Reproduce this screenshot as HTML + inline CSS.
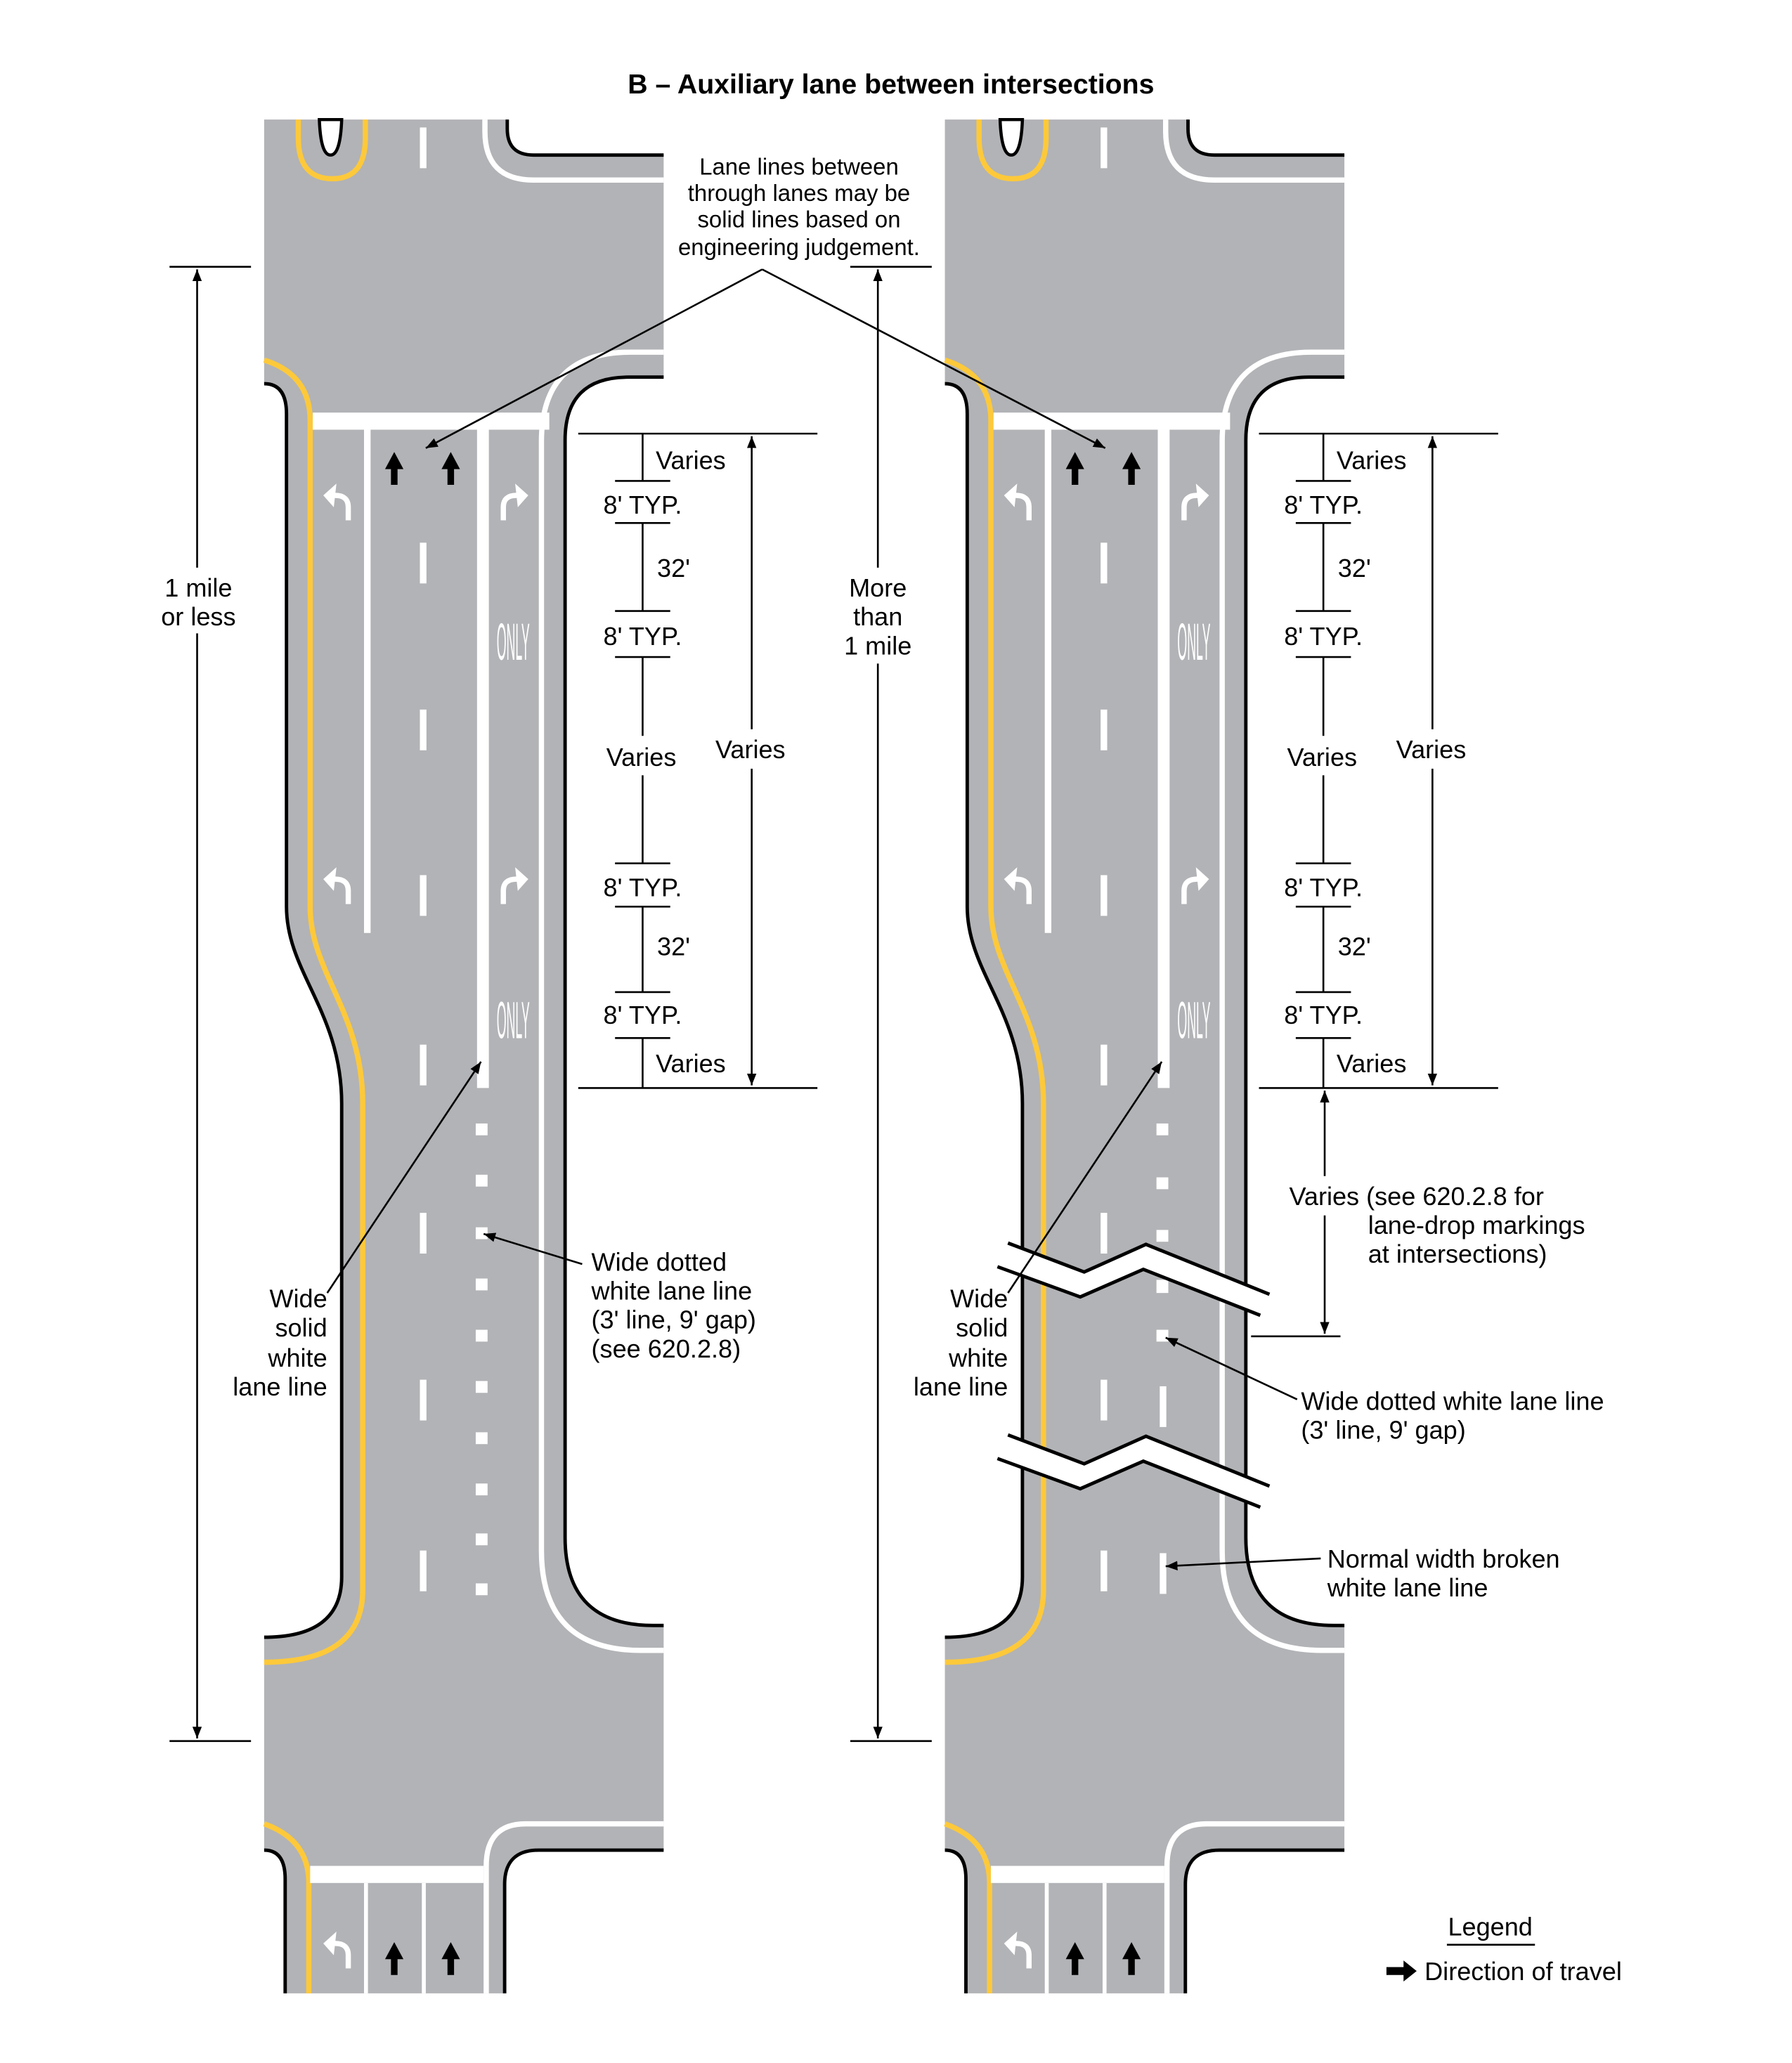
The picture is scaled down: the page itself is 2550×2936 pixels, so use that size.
<!DOCTYPE html>
<html><head><meta charset="utf-8"><style>html,body{margin:0;padding:0;background:#fff}svg{display:block}</style></head>
<body>
<svg width="2550" height="2936" viewBox="0 0 1363.6 1570" xmlns="http://www.w3.org/2000/svg" font-family="Liberation Sans, Arial, sans-serif" font-size="19.3">
<defs>
<marker id="ah" viewBox="0 0 10 10" refX="10" refY="5" markerWidth="9" markerHeight="9" markerUnits="userSpaceOnUse" orient="auto-start-reverse"><path d="M0,1 L10,5 L0,9 Z" fill="#000"/></marker>
<g id="road">
<path d="M201,91 L386,91 L386,98 Q386,118 406,118 L505,118 L505,287 L478,287 Q430,287 430,335 L430,1170 Q430,1237 497,1237 L505,1237 L505,1408 L410,1408 Q384,1408 384,1434 L384,1517 L217,1517 L217,1430 Q217,1408 201,1408 L201,1246 Q260,1246 260,1200 L260,840 C260,770 218,740 218,690 L218,315 Q218,292 201,292 Z" fill="#b2b3b6"/>
<g fill="none" stroke="#000" stroke-width="2.6">
<path d="M386,91 V98 Q386,118 406,118 H505"/>
<path d="M505,287 H478 Q430,287 430,335 V1170 Q430,1237 497,1237 H505"/>
<path d="M505,1408 H410 Q384,1408 384,1434 V1517"/>
<path d="M201,1408 Q217,1408 217,1430 V1517"/>
<path d="M201,1246 Q260,1246 260,1200 V840 C260,770 218,740 218,690 V315 Q218,292 201,292"/>
</g>
<g fill="none" stroke="#fff" stroke-width="4">
<path d="M369,91 V100 Q369,137 406,137 H505"/>
<path d="M505,268 H480 Q412,268 412,336 V1180 Q412,1256 488,1256 H505"/>
<path d="M505,1388 H400 Q370,1388 370,1420 V1517"/>
</g>
<g fill="none" stroke="#fdc93a" stroke-width="4">
<path d="M227,91 V105 Q227,136 253,136 Q278,136 278,105 V91"/>
<path d="M201,274 Q236,285 236,320 V690 C236,740 276,770 276,840 V1210 Q276,1265 201,1265"/>
<path d="M201,1388 Q235,1400 235,1433 V1517"/>
</g>
<path d="M243,91 Q244,118 251.5,118 Q259,118 260,91 Z" fill="#fff" stroke="#000" stroke-width="2.4"/>
<rect x="238" y="314" width="180" height="13" fill="#fff"/>
<rect x="236" y="1420" width="132" height="13" fill="#fff"/>
<rect x="277" y="327" width="5" height="383" fill="#fff"/>
<rect x="363" y="327" width="9" height="501" fill="#fff"/>
<rect x="277" y="1433" width="3" height="84" fill="#fff"/>
<rect x="321" y="1433" width="3" height="84" fill="#fff"/>
<g fill="#fff">
<rect x="319.5" y="97" width="5" height="31"/>
<rect x="319.5" y="413" width="5" height="31"/>
<rect x="319.5" y="540" width="5" height="31"/>
<rect x="319.5" y="666" width="5" height="31"/>
<rect x="319.5" y="795" width="5" height="31"/>
<rect x="319.5" y="923" width="5" height="31"/>
<rect x="319.5" y="1050" width="5" height="31"/>
<rect x="319.5" y="1180" width="5" height="31"/>
</g>
<g id="up" fill="#000"><polygon points="300,344 307,357 302.5,357 302.5,369 297.5,369 297.5,357 293,357"/></g>
<use href="#up" x="43"/>
<use href="#up" x="0" y="1134"/>
<use href="#up" x="43" y="1134"/>
<g id="lt"><path d="M265,396 V386 Q265,377 255,377 H252" fill="none" stroke="#fff" stroke-width="4"/><polygon points="246,377 256,368 254,386" fill="#fff"/></g>
<use href="#lt" y="292"/>
<use href="#lt" y="1102"/>
<g id="rt"><path d="M383,396 V386 Q383,377 393,377 H396" fill="none" stroke="#fff" stroke-width="4"/><polygon points="402,377 392,368 394,386" fill="#fff"/></g>
<use href="#rt" y="292"/>
<text transform="translate(390.5,502) scale(0.5,2.1)" text-anchor="middle" font-size="19" fill="#fff">ONLY</text>
<text transform="translate(390.5,790) scale(0.5,2.1)" text-anchor="middle" font-size="19" fill="#fff">ONLY</text>
</g>
</defs>

<text x="678" y="71" text-anchor="middle" font-weight="bold" font-size="21">B – Auxiliary lane between intersections</text>

<use href="#road"/>
<use href="#road" x="518"/>

<g fill="#fff">
<rect x="362" y="855" width="9" height="9"/><rect x="362" y="894" width="9" height="9"/><rect x="362" y="934" width="9" height="9"/><rect x="362" y="973" width="9" height="9"/><rect x="362" y="1012" width="9" height="9"/><rect x="362" y="1051" width="9" height="9"/><rect x="362" y="1090" width="9" height="9"/><rect x="362" y="1129" width="9" height="9"/><rect x="362" y="1167" width="9" height="9"/><rect x="362" y="1205" width="9" height="9"/>
<rect x="880" y="855" width="9" height="9"/><rect x="880" y="896" width="9" height="9"/><rect x="880" y="936" width="9" height="9"/><rect x="880" y="974" width="9" height="10"/><rect x="880" y="1012" width="9" height="9"/>
<rect x="882.5" y="1055" width="5" height="31"/><rect x="882.5" y="1182" width="5" height="31"/>
</g>
<g stroke="#000" stroke-width="2.6" fill="#fff">
<path d="M767,946 L825,968 L872,947 L966,985 L959,1001 L870,966 L822,987 L759,964 Z" stroke="none"/>
<path d="M767,946 L825,968 L872,947 L966,985 M759,964 L822,987 L870,966 L959,1001" fill="none"/>
<path d="M767,1092 L825,1114 L872,1093 L966,1131 L959,1147 L870,1112 L822,1133 L759,1110 Z" stroke="none"/>
<path d="M767,1092 L825,1114 L872,1093 L966,1131 M759,1110 L822,1133 L870,1112 L959,1147" fill="none"/>
</g>

<g stroke="#000" stroke-width="1.4" fill="none">
<path d="M129,203 H191 M129,1325 H191"/>
<path d="M150,205 V432" marker-start="url(#ah)"/>
<path d="M150,482 V1323" marker-end="url(#ah)"/>
<path d="M647,203 H709 M647,1325 H709"/>
<path d="M668,205 V432" marker-start="url(#ah)"/>
<path d="M668,505 V1323" marker-end="url(#ah)"/>
<path d="M580,205 L324,341" marker-end="url(#ah)"/>
<path d="M580,205 L841,341" marker-end="url(#ah)"/>
<path d="M249,984 L366,808" marker-end="url(#ah)"/>
<path d="M767,984 L884,808" marker-end="url(#ah)"/>
<path d="M443,962 L368,939" marker-end="url(#ah)"/>
<path d="M987,1065 L887,1018" marker-end="url(#ah)"/>
<path d="M1005,1186 L887,1192" marker-end="url(#ah)"/>
</g>
<g id="chain" stroke="#000" stroke-width="1.4" fill="none">
<path d="M440,330 H622 M440,828 H622"/>
<path d="M489,330 V366 M468,366 H510 M468,398 H510 M489,398 V465 M468,465 H510 M468,500 H510 M489,500 V560 M489,590 V657 M468,657 H510 M468,690 H510 M489,690 V755 M468,755 H510 M468,790 H510 M489,790 V828"/>
<path d="M572,332 V555" marker-start="url(#ah)"/>
<path d="M572,585 V826" marker-end="url(#ah)"/>
</g>
<use href="#chain" x="518"/>
<g stroke="#000" stroke-width="1.4" fill="none">
<path d="M1008,830 V895" marker-start="url(#ah)"/>
<path d="M1008,925 V1015" marker-end="url(#ah)"/>
<path d="M952,1017 H1020"/>
<path d="M1101,1480 H1168"/>
</g>
<polygon points="1055,1497 1068,1497 1068,1492 1078,1500 1068,1508 1068,1503 1055,1503" fill="#000"/>

<g fill="#000">
<text x="151" y="454" text-anchor="middle">1 mile</text>
<text x="151" y="476" text-anchor="middle">or less</text>
<text x="668" y="454" text-anchor="middle">More</text>
<text x="668" y="476" text-anchor="middle">than</text>
<text x="668" y="498" text-anchor="middle">1 mile</text>
<g font-size="17.6" text-anchor="middle">
<text x="608" y="133">Lane lines between</text>
<text x="608" y="153">through lanes may be</text>
<text x="608" y="173">solid lines based on</text>
<text x="608" y="194">engineering judgement.</text>
</g>
<g id="chaintext">
<text x="499" y="357">Varies</text>
<text x="489" y="391" text-anchor="middle">8' TYP.</text>
<text x="500" y="439">32'</text>
<text x="489" y="491" text-anchor="middle">8' TYP.</text>
<text x="488" y="583" text-anchor="middle">Varies</text>
<text x="571" y="577" text-anchor="middle">Varies</text>
<text x="489" y="682" text-anchor="middle">8' TYP.</text>
<text x="500" y="727">32'</text>
<text x="489" y="779" text-anchor="middle">8' TYP.</text>
<text x="499" y="816">Varies</text>
</g>
<use href="#chaintext" x="518"/>
<g text-anchor="end">
<text x="249" y="995">Wide</text><text x="249" y="1017">solid</text><text x="249" y="1040">white</text><text x="249" y="1062">lane line</text>
<text x="767" y="995">Wide</text><text x="767" y="1017">solid</text><text x="767" y="1040">white</text><text x="767" y="1062">lane line</text>
</g>
<text x="450" y="967">Wide dotted</text><text x="450" y="989">white lane line</text><text x="450" y="1011">(3' line, 9' gap)</text><text x="450" y="1033">(see 620.2.8)</text>
<text x="981" y="917">Varies (see 620.2.8 for</text>
<text x="1041" y="939">lane-drop markings</text>
<text x="1041" y="961">at intersections)</text>
<text x="990" y="1073">Wide dotted white lane line</text>
<text x="990" y="1095">(3' line, 9' gap)</text>
<text x="1010" y="1193">Normal width broken</text>
<text x="1010" y="1215">white lane line</text>
<text x="1134" y="1473" text-anchor="middle">Legend</text>
<text x="1084" y="1507">Direction of travel</text>
</g>
</svg>
</body></html>
